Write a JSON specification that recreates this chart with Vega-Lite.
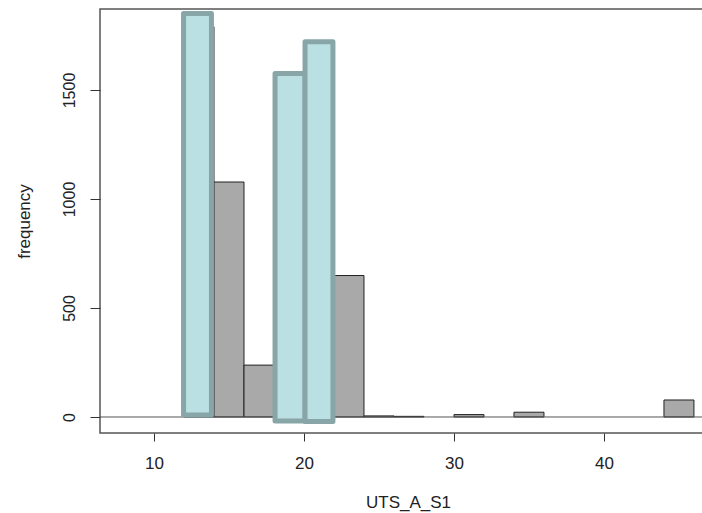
{
  "$schema": "https://vega.github.io/schema/vega-lite/v6.json",
  "width": 616,
  "height": 424,
  "autosize": "none",
  "padding": {"left": 100, "top": 9, "right": 0, "bottom": 80},
  "background": "white",
  "config": {
    "view": {"stroke": "#555", "strokeWidth": 1.5},
    "font": "Liberation Sans"
  },
  "datasets": {
    "bins": [
      {"bin_start": 12, "bin_end": 14, "count": 1790},
      {"bin_start": 14, "bin_end": 16, "count": 1078},
      {"bin_start": 16, "bin_end": 18, "count": 238},
      {"bin_start": 18, "bin_end": 20, "count": 1560},
      {"bin_start": 20, "bin_end": 22, "count": 1700},
      {"bin_start": 22, "bin_end": 24, "count": 649},
      {"bin_start": 24, "bin_end": 26, "count": 5},
      {"bin_start": 26, "bin_end": 28, "count": 3},
      {"bin_start": 30, "bin_end": 32, "count": 11},
      {"bin_start": 34, "bin_end": 36, "count": 22},
      {"bin_start": 44, "bin_end": 46, "count": 78}
    ],
    "highlight": [
      {"x0": 11.97, "x1": 13.83, "y0": 9, "y1": 1851},
      {"x0": 18.07, "x1": 20.07, "y0": -18, "y1": 1576},
      {"x0": 20.07, "x1": 21.93, "y0": -21, "y1": 1721}
    ]
  },
  "layer": [
    {
      "data": {"name": "bins"},
      "mark": {"type": "rect", "fill": "#A9A9A9", "stroke": "#222", "strokeWidth": 1},
      "encoding": {
        "x": {
          "field": "bin_start",
          "type": "quantitative",
          "scale": {"domain": [6.4, 47.47], "nice": false, "zero": false},
          "axis": {
            "title": "UTS_A_S1",
            "values": [10, 20, 30, 40],
            "grid": false,
            "domain": false,
            "tickSize": 8,
            "tickColor": "#333",
            "labelPadding": 14,
            "labelFontSize": 17,
            "labelColor": "#222",
            "titleFontSize": 17,
            "titleFontWeight": "normal",
            "titleColor": "#222",
            "titlePadding": 23
          }
        },
        "x2": {"field": "bin_end"},
        "y": {
          "field": "count",
          "type": "quantitative",
          "scale": {"domain": [-73.4, 1871.6], "nice": false, "zero": false},
          "axis": {
            "title": "frequency",
            "values": [0, 500, 1000, 1500],
            "format": "d",
            "grid": false,
            "domain": false,
            "tickSize": 10,
            "tickColor": "#333",
            "labelAngle": -90,
            "labelAlign": "center",
            "labelBaseline": "bottom",
            "labelPadding": 13,
            "labelFontSize": 16,
            "labelColor": "#222",
            "titleFontSize": 17,
            "titleFontWeight": "normal",
            "titleColor": "#222",
            "titlePadding": 28
          }
        },
        "y2": {"datum": 0}
      }
    },
    {
      "data": {"values": [{}]},
      "mark": {"type": "rule", "color": "#555", "strokeWidth": 1},
      "encoding": {"y": {"datum": 0}}
    },
    {
      "data": {"name": "highlight"},
      "mark": {"type": "rect", "fill": "#BBE0E3", "stroke": "#88A5A7", "strokeWidth": 5, "strokeJoin": "round"},
      "encoding": {
        "x": {"field": "x0", "type": "quantitative"},
        "x2": {"field": "x1"},
        "y": {"field": "y0", "type": "quantitative"},
        "y2": {"field": "y1"}
      }
    }
  ]
}
